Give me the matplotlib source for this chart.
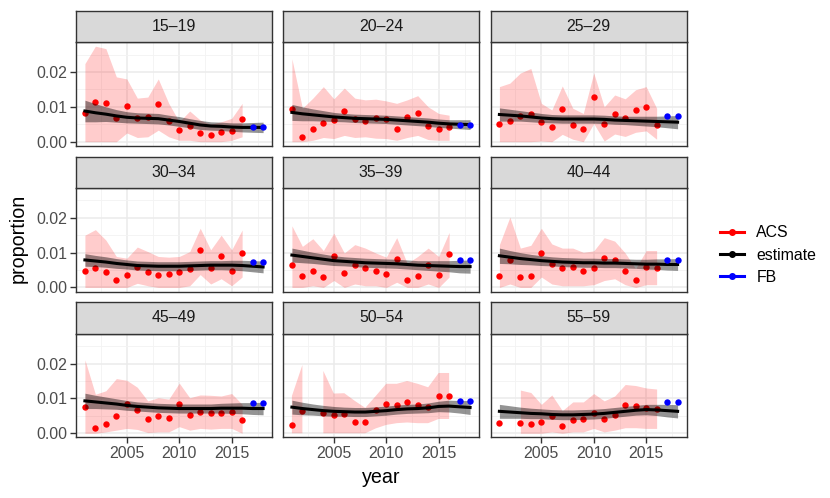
import numpy as np
import matplotlib
matplotlib.use("Agg")
import matplotlib.pyplot as plt
from matplotlib.lines import Line2D

plt.rcParams['font.family'] = ['Liberation Sans', 'DejaVu Sans']

years_acs = list(range(2001, 2017))
years_est = list(range(2001, 2019))
years_fb = [2017, 2018]
groups = ["15\u201319", "20\u201324", "25\u201329", "30\u201334", "35\u201339",
          "40\u201344", "45\u201349", "50\u201354", "55\u201359"]
nan = float('nan')

acs = {
    "15\u201319": [0.0083, 0.0115, 0.0111, 0.0067, 0.0103, 0.0067, 0.0070, 0.0108, 0.0060, 0.0033, 0.0044, 0.0025, 0.0018, 0.0027, 0.0031, 0.0065],
    "20\u201324": [0.0095, 0.0014, 0.0036, 0.0054, 0.0062, 0.0087, 0.0065, 0.0060, 0.0067, 0.0064, 0.0035, 0.0070, 0.0081, 0.0044, 0.0035, 0.0043],
    "25\u201329": [0.0052, 0.0058, 0.0073, 0.0080, 0.0057, 0.0043, 0.0093, 0.0047, 0.0037, 0.0127, 0.0052, 0.0079, 0.0069, 0.0090, 0.0099, 0.0049],
    "30\u201334": [0.0047, 0.0057, 0.0043, 0.0022, 0.0035, 0.0059, 0.0045, 0.0037, 0.0040, 0.0043, 0.0054, 0.0107, 0.0056, 0.0089, 0.0046, 0.0100],
    "35\u201339": [0.0064, 0.0034, 0.0046, 0.0029, 0.0089, 0.0042, 0.0065, 0.0056, 0.0046, 0.0038, 0.0082, 0.0021, 0.0034, 0.0064, 0.0035, 0.0097],
    "40\u201344": [0.0034, 0.0079, 0.0030, 0.0034, 0.0099, 0.0067, 0.0056, 0.0058, 0.0048, 0.0056, 0.0086, 0.0078, 0.0047, 0.0021, 0.0058, 0.0057],
    "45\u201349": [0.0076, 0.0014, 0.0027, 0.0050, 0.0084, 0.0068, 0.0041, 0.0050, 0.0045, 0.0084, 0.0052, 0.0060, 0.0059, 0.0057, 0.0062, 0.0039],
    "50\u201354": [0.0024, 0.0063, nan, 0.0057, 0.0052, 0.0054, 0.0033, 0.0031, 0.0067, 0.0083, 0.0080, 0.0090, 0.0082, 0.0074, 0.0108, 0.0108],
    "55\u201359": [0.0029, nan, 0.0029, 0.0027, 0.0033, 0.0049, 0.0022, 0.0037, 0.0040, 0.0058, 0.0041, 0.0053, 0.0080, 0.0078, 0.0073, 0.0071],
}
acs_lo = {
    "15\u201319": [0.0, 0.0, 0.0, 0.0, 0.0025, 0.0012, 0.0014, 0.0033, 0.0014, 0.0004, 0.0004, 0.0, 0.0, 0.0, 0.0004, 0.0014],
    "20\u201324": [0.0, 0.0, 0.0004, 0.0012, 0.0009, 0.0018, 0.0012, 0.0014, 0.0010, 0.0009, 0.0004, 0.0012, 0.0018, 0.0006, 0.0004, 0.0004],
    "25\u201329": [0.0, 0.0, 0.0, 0.0, 0.0002, 0.0, 0.0021, 0.0007, 0.0, 0.0052, 0.0002, 0.0022, 0.0015, 0.0027, 0.0031, 0.0007],
    "30\u201334": [0.0, 0.0, 0.0, 0.0, 0.0, 0.0012, 0.0005, 0.0, 0.0, 0.0, 0.0005, 0.0037, 0.0010, 0.0025, 0.0005, 0.0030],
    "35\u201339": [0.0, 0.0, 0.0005, 0.0, 0.0020, 0.0, 0.0010, 0.0005, 0.0005, 0.0, 0.0015, 0.0, 0.0, 0.0010, 0.0, 0.0030],
    "40\u201344": [0.0, 0.0010, 0.0, 0.0, 0.0030, 0.0010, 0.0005, 0.0005, 0.0005, 0.0008, 0.0020, 0.0025, 0.0008, 0.0, 0.0008, 0.0008],
    "45\u201349": [0.0, 0.0, 0.0004, 0.0009, 0.0014, 0.0011, 0.0002, 0.0004, 0.0004, 0.0019, 0.0009, 0.0014, 0.0012, 0.0014, 0.0014, 0.0],
    "50\u201354": [0.0, 0.0, nan, 0.0, 0.0, 0.0, 0.0, 0.0, 0.0014, 0.0024, 0.0029, 0.0031, 0.0029, 0.0029, 0.0041, 0.0041],
    "55\u201359": [nan, nan, 0.0, 0.0, 0.0, 0.0004, 0.0, 0.0004, 0.0004, 0.0014, 0.0004, 0.0009, 0.0016, 0.0016, 0.0014, 0.0014],
}
acs_hi = {
    "15\u201319": [0.0224, 0.0274, 0.0267, 0.0186, 0.0180, 0.0125, 0.0128, 0.0180, 0.0110, 0.0057, 0.0088, 0.0062, 0.0050, 0.0057, 0.0067, 0.0110],
    "20\u201324": [0.0238, 0.0096, 0.0125, 0.0158, 0.0123, 0.0154, 0.0125, 0.0120, 0.0122, 0.0117, 0.0110, 0.0120, 0.0132, 0.0100, 0.0081, 0.0076],
    "25\u201329": [0.0158, 0.0168, 0.0197, 0.0210, 0.0110, 0.0091, 0.0160, 0.0096, 0.0081, 0.0197, 0.0100, 0.0134, 0.0123, 0.0149, 0.0158, 0.0096],
    "30\u201334": [0.0150, 0.0166, 0.0136, 0.0089, 0.0084, 0.0116, 0.0103, 0.0089, 0.0087, 0.0089, 0.0103, 0.0170, 0.0108, 0.0150, 0.0108, 0.0165],
    "35\u201339": [0.0177, 0.0118, 0.0140, 0.0106, 0.0156, 0.0099, 0.0123, 0.0113, 0.0099, 0.0087, 0.0143, 0.0069, 0.0089, 0.0113, 0.0089, 0.0158],
    "40\u201344": [0.0123, 0.0202, 0.0113, 0.0121, 0.0170, 0.0125, 0.0113, 0.0113, 0.0101, 0.0105, 0.0143, 0.0133, 0.0099, 0.0054, 0.0106, 0.0106],
    "45\u201349": [0.0211, 0.0112, 0.0122, 0.0157, 0.0152, 0.0132, 0.0093, 0.0102, 0.0098, 0.0144, 0.0102, 0.0110, 0.0109, 0.0107, 0.0114, 0.0083],
    "50\u201354": [0.0107, 0.0196, nan, 0.0179, 0.0114, 0.0115, 0.0093, 0.0073, 0.0107, 0.0142, 0.0142, 0.0150, 0.0142, 0.0132, 0.0173, 0.0173],
    "55\u201359": [nan, nan, 0.0124, 0.0117, 0.0083, 0.0110, 0.0065, 0.0090, 0.0090, 0.0114, 0.0093, 0.0107, 0.0140, 0.0137, 0.0130, 0.0127],
}
fb = {
    "15\u201319": [0.0043, 0.0043],
    "20\u201324": [0.0049, 0.0049],
    "25\u201329": [0.0073, 0.0073],
    "30\u201334": [0.0073, 0.0073],
    "35\u201339": [0.0079, 0.0079],
    "40\u201344": [0.0080, 0.0080],
    "45\u201349": [0.0086, 0.0086],
    "50\u201354": [0.0092, 0.0092],
    "55\u201359": [0.0090, 0.0090],
}
est = {
    "15\u201319": [0.0088, 0.0083, 0.0079, 0.0074, 0.0070, 0.0068, 0.0067, 0.0066, 0.0062, 0.0058, 0.0053, 0.0048, 0.0045, 0.0044, 0.0042, 0.0041, 0.0041, 0.0041],
    "20\u201324": [0.0084, 0.0080, 0.0077, 0.0074, 0.0071, 0.0069, 0.0067, 0.0066, 0.0065, 0.0064, 0.0062, 0.0060, 0.0058, 0.0056, 0.0053, 0.0051, 0.0050, 0.0049],
    "25\u201329": [0.0078, 0.0076, 0.0074, 0.0071, 0.0068, 0.0066, 0.0065, 0.0065, 0.0065, 0.0065, 0.0064, 0.0062, 0.0061, 0.0060, 0.0059, 0.0058, 0.0057, 0.0056],
    "30\u201334": [0.0079, 0.0076, 0.0073, 0.0069, 0.0066, 0.0063, 0.0062, 0.0061, 0.0061, 0.0061, 0.0062, 0.0063, 0.0064, 0.0064, 0.0064, 0.0063, 0.0061, 0.0059],
    "35\u201339": [0.0093, 0.0089, 0.0085, 0.0081, 0.0077, 0.0075, 0.0073, 0.0071, 0.0070, 0.0069, 0.0068, 0.0066, 0.0064, 0.0063, 0.0062, 0.0061, 0.0060, 0.0060],
    "40\u201344": [0.0091, 0.0087, 0.0083, 0.0080, 0.0077, 0.0075, 0.0073, 0.0072, 0.0071, 0.0071, 0.0070, 0.0070, 0.0069, 0.0068, 0.0067, 0.0067, 0.0066, 0.0066],
    "45\u201349": [0.0093, 0.0090, 0.0087, 0.0084, 0.0080, 0.0077, 0.0075, 0.0073, 0.0072, 0.0071, 0.0071, 0.0071, 0.0071, 0.0072, 0.0072, 0.0072, 0.0071, 0.0071],
    "50\u201354": [0.0075, 0.0071, 0.0068, 0.0065, 0.0063, 0.0062, 0.0061, 0.0061, 0.0063, 0.0065, 0.0068, 0.0070, 0.0071, 0.0073, 0.0077, 0.0078, 0.0076, 0.0074],
    "55\u201359": [0.0063, 0.0061, 0.0059, 0.0057, 0.0056, 0.0054, 0.0053, 0.0053, 0.0054, 0.0055, 0.0057, 0.0060, 0.0063, 0.0066, 0.0068, 0.0067, 0.0065, 0.0063],
}
est_hw = {
    "15\u201319": [0.0031, 0.0026, 0.0021, 0.0018, 0.0016, 0.0015, 0.0015, 0.0015, 0.0014, 0.0014, 0.0013, 0.0013, 0.0012, 0.0012, 0.0012, 0.0013, 0.0014, 0.0015],
    "20\u201324": [0.0023, 0.0020, 0.0017, 0.0015, 0.0013, 0.0012, 0.0012, 0.0012, 0.0012, 0.0012, 0.0012, 0.0012, 0.0012, 0.0012, 0.0012, 0.0012, 0.0013, 0.0014],
    "25\u201329": [0.0019, 0.0017, 0.0015, 0.0014, 0.0013, 0.0012, 0.0012, 0.0012, 0.0012, 0.0012, 0.0012, 0.0012, 0.0012, 0.0013, 0.0014, 0.0015, 0.0017, 0.0019],
    "30\u201334": [0.0018, 0.0016, 0.0015, 0.0014, 0.0013, 0.0013, 0.0013, 0.0013, 0.0013, 0.0013, 0.0013, 0.0013, 0.0013, 0.0013, 0.0014, 0.0015, 0.0016, 0.0017],
    "35\u201339": [0.0020, 0.0018, 0.0016, 0.0015, 0.0014, 0.0013, 0.0013, 0.0013, 0.0013, 0.0013, 0.0013, 0.0013, 0.0013, 0.0014, 0.0015, 0.0016, 0.0018, 0.0019],
    "40\u201344": [0.0022, 0.0019, 0.0017, 0.0015, 0.0014, 0.0013, 0.0013, 0.0013, 0.0013, 0.0013, 0.0013, 0.0013, 0.0013, 0.0013, 0.0014, 0.0015, 0.0016, 0.0017],
    "45\u201349": [0.0022, 0.0019, 0.0017, 0.0015, 0.0014, 0.0013, 0.0013, 0.0013, 0.0013, 0.0013, 0.0013, 0.0013, 0.0013, 0.0014, 0.0015, 0.0016, 0.0017, 0.0018],
    "50\u201354": [0.0020, 0.0018, 0.0016, 0.0015, 0.0014, 0.0013, 0.0013, 0.0013, 0.0013, 0.0013, 0.0013, 0.0013, 0.0013, 0.0014, 0.0015, 0.0017, 0.0018, 0.0020],
    "55\u201359": [0.0020, 0.0018, 0.0016, 0.0015, 0.0014, 0.0014, 0.0014, 0.0014, 0.0014, 0.0014, 0.0014, 0.0014, 0.0014, 0.0014, 0.0015, 0.0016, 0.0018, 0.0019],
}
xticks = [2005, 2010, 2015]
yticks = [0.00, 0.01, 0.02]
ytick_labels = ["0.00", "0.01", "0.02"]

W, H = 830, 498
fig = plt.figure(figsize=(W / 100, H / 100), dpi=100)

col_left = [76, 283, 490.5]
panel_w = 196
row_top = [10.7, 156.5, 302.3]
strip_h = 31.3
panel_h = 103.8

grid_major = '#EBEBEB'
border = '#333333'
tick_col = '#4D4D4D'
fs_tick = 11.4

for i, g in enumerate(groups):
    r, c = divmod(i, 3)
    x0 = col_left[c]
    st = row_top[r]
    pt = st + strip_h
    ax = fig.add_axes([x0 / W, 1 - (pt + panel_h) / H, panel_w / W, panel_h / H])
    sax = fig.add_axes([x0 / W, 1 - (st + strip_h) / H, panel_w / W, strip_h / H])
    sax.set_facecolor('#D9D9D9')
    sax.set_xticks([]); sax.set_yticks([])
    for s in sax.spines.values():
        s.set_color(border); s.set_linewidth(1.0)
    sax.text(0.5, 0.5, g, ha='center', va='center', fontsize=fs_tick,
             color='#1A1A1A', transform=sax.transAxes)

    ax.set_xlim(2000.15, 2018.85)
    ax.set_ylim(-0.00118, 0.0286)
    ax.set_xticks(xticks)
    ax.set_xticks([2002.5, 2007.5, 2012.5, 2017.5], minor=True)
    ax.set_yticks(yticks)
    ax.set_yticks([0.005, 0.015, 0.025], minor=True)
    ax.grid(True, which='major', color=grid_major, linewidth=1.1, zorder=0)
    ax.grid(True, which='minor', color='#F3F3F3', linewidth=0.6, zorder=0)
    ax.set_axisbelow(True)
    for s in ax.spines.values():
        s.set_color(border); s.set_linewidth(1.0)

    ya = np.array(acs[g], dtype=float)
    lo = np.array(acs_lo[g], dtype=float)
    hi = np.array(acs_hi[g], dtype=float)
    ax.fill_between(years_acs, lo, hi, color='#FF0000', alpha=0.2, linewidth=0, zorder=1)
    ax.plot(years_acs, ya, 'o', color='#FF0000', markersize=4.6, markeredgewidth=0, zorder=2)
    e = np.array(est[g]); hw = np.array(est_hw[g])
    ax.fill_between(years_est, e - hw, e + hw, color='black', alpha=0.42, linewidth=0, zorder=3)
    ax.plot(years_est, e, color='black', linewidth=2.2, zorder=4)
    ax.plot(years_fb, fb[g], 'o', color='#0000FF', markersize=4.6, markeredgewidth=0, zorder=5)

    ax.tick_params(which='minor', length=0)
    ax.tick_params(which='major', color=border, length=4, width=1.0,
                   labelsize=fs_tick, labelcolor=tick_col, pad=2)
    if r == 2:
        ax.set_xticklabels([str(t) for t in xticks])
    else:
        ax.tick_params(axis='x', which='major', length=0, labelbottom=False)
    if c == 0:
        ax.set_yticklabels(ytick_labels)
    else:
        ax.tick_params(axis='y', which='major', length=0, labelleft=False)

fig.text(381 / W, 1 - 477 / H, "year", ha='center', va='center', fontsize=14.2, color='black')
fig.text(18 / W, 1 - 238 / H, "proportion", ha='center', va='center', rotation=90,
         fontsize=14.2, color='black')

handles = [Line2D([0], [0], color=col, marker='o', markersize=4, linewidth=2.2)
           for col in ['#FF0000', 'black', '#0000FF']]
fig.legend(handles, ["ACS", "estimate", "FB"], loc='center left',
           bbox_to_anchor=(712 / W, 1 - 255 / H), frameon=False, fontsize=fs_tick,
           handlelength=1.5, handletextpad=0.8, labelspacing=0.45, borderpad=0)

fig.savefig("out.png", dpi=100)
